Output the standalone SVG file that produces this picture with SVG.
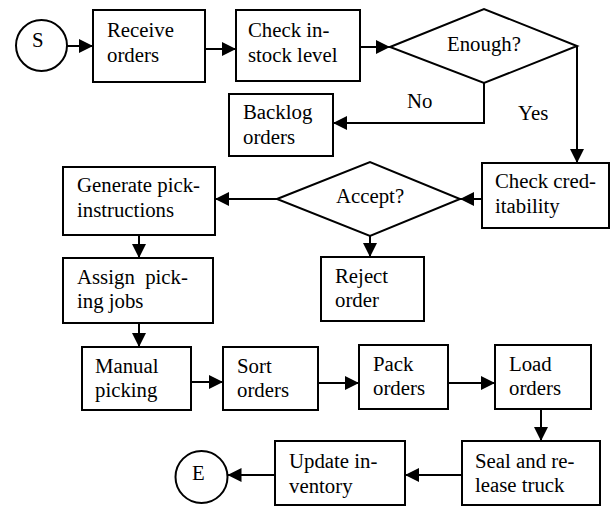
<svg xmlns="http://www.w3.org/2000/svg" width="610" height="507" viewBox="0 0 610 507">
<style>
.n{fill:#fff;stroke:#000;stroke-width:2}
.t{font-family:'Liberation Serif','Times New Roman',Times,'DejaVu Serif',serif;font-size:20.8px;fill:#000;white-space:pre}
.c{fill:none;stroke:#000;stroke-width:2;marker-end:url(#ah)}
</style>
<defs>
<marker id="ah" markerUnits="userSpaceOnUse" markerWidth="14" markerHeight="14" refX="14" refY="7" orient="auto" viewBox="0 0 14 14">
<path d="M0,0 L14,7 L0,14 z" fill="#000"/>
</marker>
</defs>
<rect width="610" height="507" fill="#fff"/>
<g id="connectors">
<path class="c" d="M67,46 H93"/>
<path class="c" d="M205,49 H236"/>
<path class="c" d="M360,47 H390"/>
<path class="c" d="M484,83 V123 H333"/>
<path class="c" d="M577,46 V163"/>
<path class="c" d="M482,199 H460"/>
<path class="c" d="M277,199 H215"/>
<path class="c" d="M370,236 V257"/>
<path class="c" d="M139,235 V258"/>
<path class="c" d="M139,323 V347"/>
<path class="c" d="M191,382 H223"/>
<path class="c" d="M318,383 H359"/>
<path class="c" d="M448,383 H495"/>
<path class="c" d="M541,409 V441"/>
<path class="c" d="M462,475 H405"/>
<path class="c" d="M275,475 H227.5"/>
<text class="t" x="407" y="108">No</text>
<text class="t" x="518" y="120">Yes</text>
</g>
<g id="start"><circle class="n" cx="41.5" cy="45.5" r="25.5"/><text class="t" x="32" y="47">S</text></g>
<g id="receive"><rect class="n" x="93" y="10" width="112" height="72"/><text class="t" x="107" y="37">Receive</text><text class="t" x="107" y="62">orders</text></g>
<g id="check-stock"><rect class="n" x="236" y="10" width="124" height="71"/><text class="t" x="248" y="37">Check in-</text><text class="t" x="248" y="62">stock level</text></g>
<g id="enough"><polygon class="n" points="390,47 484,9 577,46 484,83"/><text class="t" x="447" y="51">Enough?</text></g>
<g id="backlog"><rect class="n" x="229" y="94" width="104" height="62"/><text class="t" x="243" y="119">Backlog</text><text class="t" x="243" y="144">orders</text></g>
<g id="check-cred"><rect class="n" x="482" y="163" width="127" height="65"/><text class="t" x="495" y="188">Check cred-</text><text class="t" x="495" y="213">itability</text></g>
<g id="accept"><polygon class="n" points="277,199 370,162 460,199 370,236"/><text class="t" x="336" y="203">Accept?</text></g>
<g id="reject"><rect class="n" x="321" y="257" width="103" height="64"/><text class="t" x="335" y="283">Reject</text><text class="t" x="335" y="307">order</text></g>
<g id="generate"><rect class="n" x="63" y="167" width="152" height="68"/><text class="t" x="77" y="192">Generate pick-</text><text class="t" x="77" y="217">instructions</text></g>
<g id="assign"><rect class="n" x="63" y="258" width="150" height="65"/><text class="t" x="77" y="284">Assign  pick-</text><text class="t" x="77" y="308">ing jobs</text></g>
<g id="manual"><rect class="n" x="82" y="347" width="109" height="63"/><text class="t" x="95" y="373">Manual</text><text class="t" x="95" y="397">picking</text></g>
<g id="sort"><rect class="n" x="223" y="347" width="95" height="63"/><text class="t" x="237" y="373">Sort</text><text class="t" x="237" y="397">orders</text></g>
<g id="pack"><rect class="n" x="359" y="345" width="89" height="64"/><text class="t" x="373" y="371">Pack</text><text class="t" x="373" y="395">orders</text></g>
<g id="load"><rect class="n" x="495" y="345" width="96" height="64"/><text class="t" x="509" y="371">Load</text><text class="t" x="509" y="395">orders</text></g>
<g id="seal"><rect class="n" x="462" y="441" width="138" height="64"/><text class="t" x="475" y="468">Seal and re-</text><text class="t" x="475" y="492">lease truck</text></g>
<g id="update"><rect class="n" x="275" y="441" width="130" height="64"/><text class="t" x="289" y="468">Update in-</text><text class="t" x="289" y="493">ventory</text></g>
<g id="end"><circle class="n" cx="201.5" cy="477" r="26"/><text class="t" x="192" y="480">E</text></g>
</svg>
